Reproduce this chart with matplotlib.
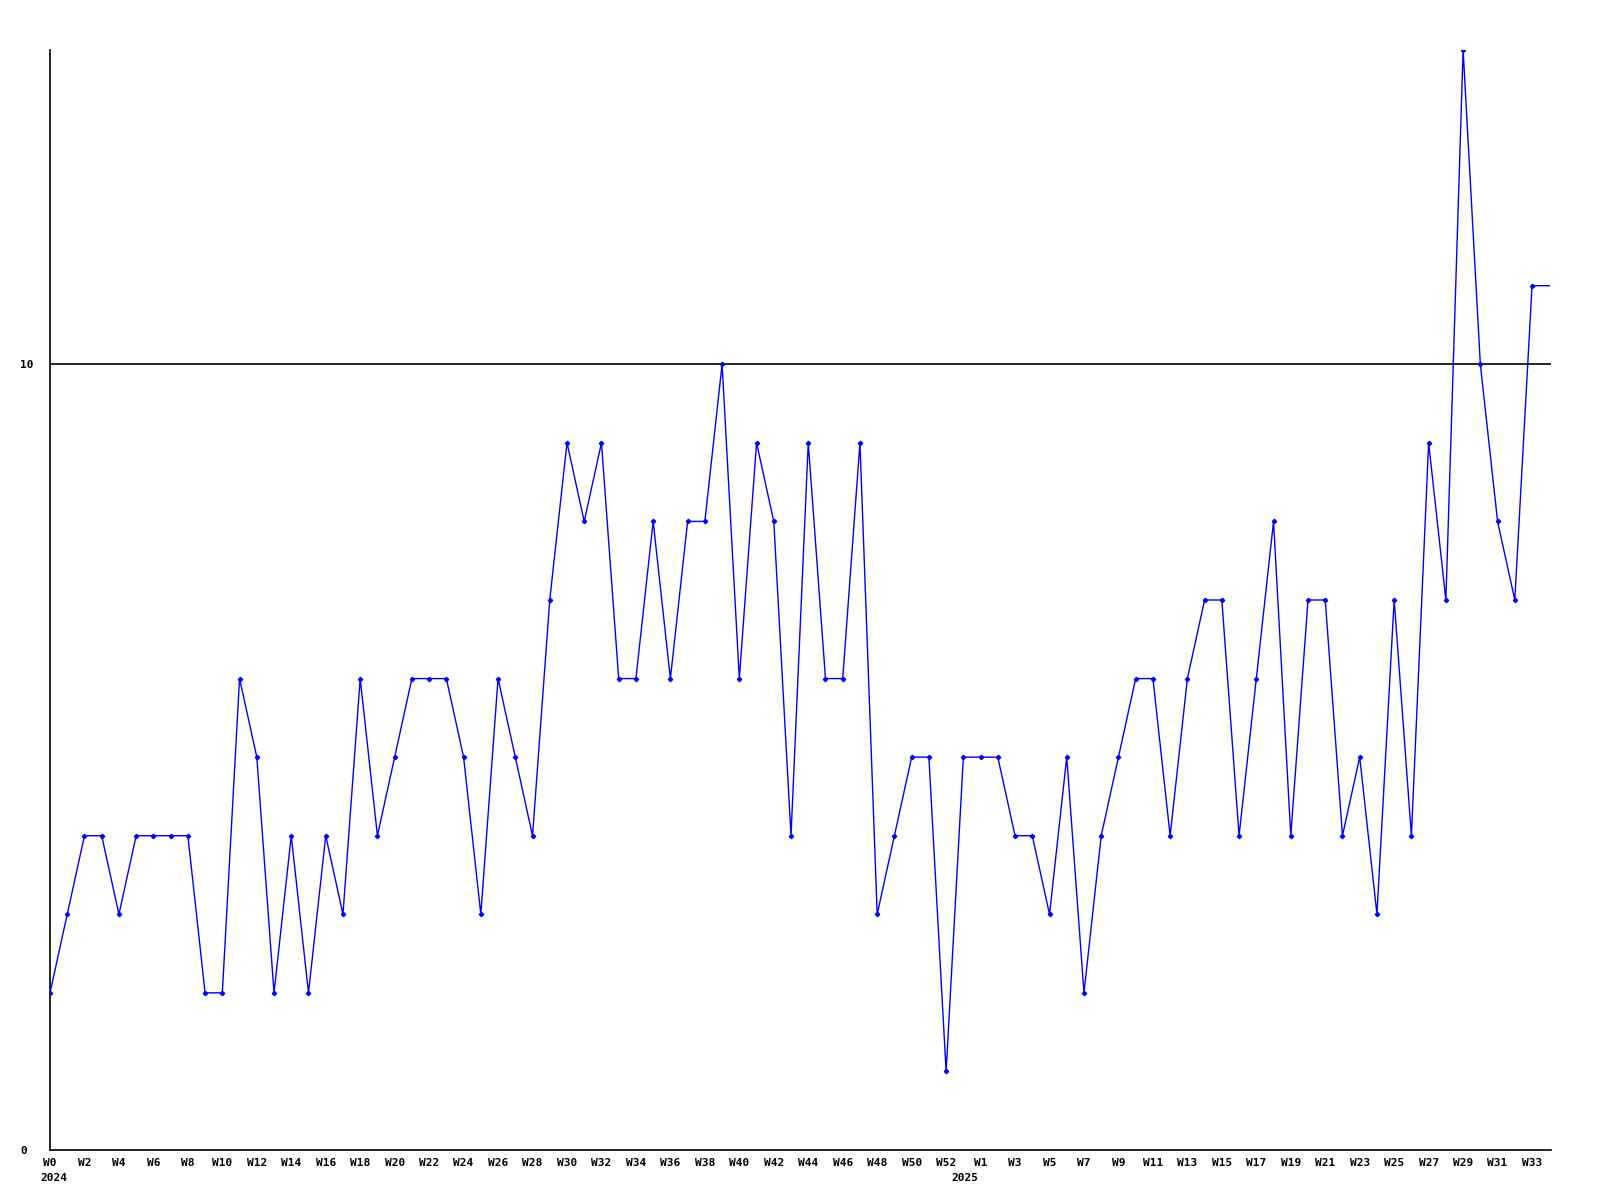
import matplotlib
matplotlib.use("Agg")
import matplotlib.pyplot as plt
import matplotlib.transforms as mtransforms

# weekly values: 2024 W0..W52, then 2025 W0..W34
values_2024 = [2, 3, 4, 4, 3, 4, 4, 4, 4, 2, 2, 6, 5, 2, 4, 2, 4, 3, 6, 4,
               5, 6, 6, 6, 5, 3, 6, 5, 4, 7, 9, 8, 9, 6, 6, 8, 6, 8, 8, 10,
               6, 9, 8, 4, 9, 6, 6, 9, 3, 4, 5, 5, 1]
values_2025 = [5, 5, 5, 4, 4, 3, 5, 2, 4, 5, 6, 6, 4, 6, 7, 7, 4, 6, 8, 4,
               7, 7, 4, 5, 3, 7, 4, 9, 7, 14, 10, 8, 7, 11, 11]
years = ["2024", "2025"]
y_ticks = [0, 10]

values = values_2024 + values_2025
n24 = len(values_2024)
xs = list(range(len(values)))

labels = []
for i in range(len(values)):
    if i < n24:
        w = i
    else:
        w = i - n24
    labels.append(f"W{w}")

fig = plt.figure(figsize=(16, 12), dpi=100)
ax = fig.add_axes([50/1600, 50/1200, (1551-50)/1600, 1100/1200])

ax.plot(xs, values, color="#0000ff", lw=1.0, marker="D", ms=2.2,
        markevery=list(range(len(values) - 1)), zorder=3)
ax.axhline(10, color="black", lw=1.2, zorder=2)

ax.set_xlim(0, len(values) - 1 + 0.1)
ax.set_ylim(0, 14)

for s in ["top", "right"]:
    ax.spines[s].set_visible(False)
for s in ["left", "bottom"]:
    ax.spines[s].set_linewidth(1.2)
    ax.spines[s].set_color("black")

font = dict(family="DejaVu Sans Mono", weight="bold", size=8)

# x tick labels: every other week within each year
tick_pos = [i for i in range(len(values)) if (i < n24 and i % 2 == 0) or (i >= n24 and (i - n24) % 2 == 1)]
ax.set_xticks(tick_pos)
ax.set_xticklabels([labels[i] for i in tick_pos], **font)
ax.tick_params(axis="x", length=0, pad=5.5)

ax.set_yticks(y_ticks)
ax.set_yticklabels([str(v) for v in y_ticks], **font)
ax.tick_params(axis="y", length=0, pad=21.6)
for lab in ax.get_yticklabels():
    lab.set_horizontalalignment("left")

trans = mtransforms.blended_transform_factory(ax.transData, ax.transAxes)
ax.text(0.2, -0.0205, years[0], transform=trans, ha="center", va="top", **font)
ax.text(n24 + 0.1, -0.0205, years[1], transform=trans, ha="center", va="top", **font)

fig.savefig("out.png", dpi=100)
